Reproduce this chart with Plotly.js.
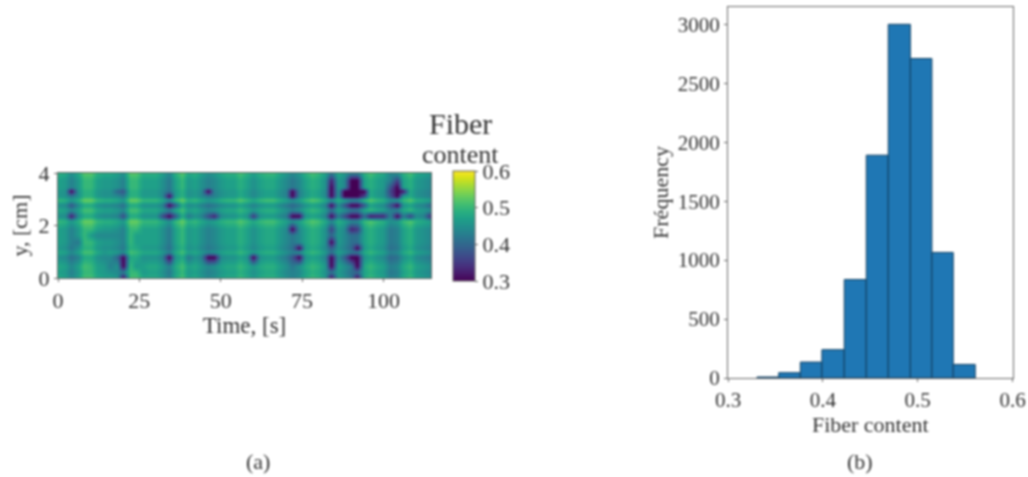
<!DOCTYPE html>
<html><head><meta charset="utf-8">
<script src="https://cdn.plot.ly/plotly-3.0.1.min.js"></script>
<style>html,body{margin:0;padding:0;background:#fff}#plot{width:1028px;height:477px;filter:blur(0.8px)}</style>
</head><body><div id="plot"></div>
<script>
var timeSeconds=[0,2,4,6,8,10,12,14,16,18,20,22,24,26,28,30,32,34,36,38,40,42,44,46,48,50,52,54,56,58,60,62,64,66,68,70,72,74,76,78,80,82,84,86,88,90,92,94,96,98,100,102,104,106,108,110,112,114];
var yCm=[0,0.23,0.46,0.8,1.0,1.15,1.38,1.62,1.88,2.18,2.36,2.58,2.8,2.96,3.12,3.3,3.48,3.72,4];
var fiberPercent=[
[48,47,44,47,51,51,48,47,47,46,30,51,51,48,48,48,46,43,48,51,47,48,46,44,45,47,48,48,50,48,46,48,49,49,47,45,43,45,48,50,49,46,30,47,45,42,30,48,50,48,47,43,44,48,50,47,46,45],
[47,46,43,46,50,50,47,46,45,44,42,50,50,46,47,47,45,42,47,50,46,47,45,43,44,46,47,47,49,47,45,47,48,48,46,44,43,44,47,49,48,45,41,46,44,41,40,47,49,47,46,42,43,47,49,46,45,44],
[48,47,44,47,51,50,47,46,43,45,30,50,46,47,48,48,46,43,48,51,47,48,46,44,45,47,48,48,50,48,46,48,49,49,47,45,42,45,48,50,49,46,30,47,45,42,30,48,50,48,47,43,44,48,50,47,46,45],
[45,44,41,43,48,48,45,44,44,40,30,48,48,45,45,45,43,30,45,48,42,45,43,30,30,44,45,45,47,45,30,45,46,46,44,42,38,30,45,47,46,43,30,44,39,30,30,45,47,45,44,40,41,45,47,44,43,42],
[48,47,44,47,51,51,48,46,47,46,44,51,50,48,48,48,46,43,48,51,47,48,46,44,45,47,48,48,50,48,46,48,49,49,47,45,43,45,48,50,49,46,41,47,45,42,42,48,50,48,47,43,44,48,50,47,46,45],
[46,45,42,45,49,49,46,45,45,44,42,49,48,46,46,46,44,41,46,49,45,46,44,42,43,45,46,46,48,46,44,46,47,47,45,43,41,30,46,48,47,44,39,45,43,40,30,46,48,46,45,41,42,46,48,45,44,43],
[47,46,43,42,50,50,47,46,46,45,43,50,47,47,47,47,45,42,47,50,46,47,45,43,44,46,47,47,49,47,45,47,48,48,46,44,42,44,47,49,48,45,30,46,44,41,41,47,49,47,46,42,43,47,49,46,45,44],
[47,46,43,46,50,46,44,44,44,44,43,50,47,47,47,47,45,42,47,50,46,47,45,43,44,46,47,47,49,47,45,47,48,48,46,44,42,44,47,49,48,45,40,46,44,41,41,47,49,47,46,42,43,47,49,46,45,44],
[47,46,43,46,50,50,47,46,46,45,43,50,50,47,47,47,45,42,47,50,46,47,45,43,44,46,47,47,49,47,45,47,48,48,46,44,30,44,47,49,48,45,36,46,44,33,35,47,49,47,46,42,43,47,49,46,45,44],
[50,49,46,49,53,53,50,49,49,48,46,53,53,50,50,50,48,45,50,53,49,50,48,46,47,49,50,50,52,50,48,50,51,51,49,47,45,47,50,52,51,48,44,49,47,44,44,50,52,50,49,45,46,50,52,49,48,47],
[45,44,32,44,48,48,45,44,44,43,37,48,48,45,45,45,37,30,38,48,42,45,43,37,33,44,45,45,47,45,35,45,46,46,44,42,30,30,45,47,46,43,30,42,37,30,30,40,32,33,33,43,30,42,36,44,43,35],
[48,47,44,47,51,51,48,47,47,46,44,51,51,48,48,48,46,43,48,51,47,48,46,44,45,47,48,48,50,48,46,48,49,49,47,45,43,45,48,50,49,46,41,47,45,42,42,48,50,48,47,43,44,48,50,47,46,45],
[45,44,38,44,48,48,45,44,44,43,41,48,48,45,45,45,43,30,38,48,44,45,43,41,42,44,45,45,47,45,43,45,46,46,44,42,40,42,45,47,46,43,30,44,38,30,30,38,47,45,44,38,30,45,47,44,43,40],
[50,49,46,49,53,53,50,49,49,48,46,53,53,50,50,50,48,45,50,53,49,50,48,46,47,49,50,50,52,50,48,50,51,51,49,47,45,47,50,52,51,48,45,49,47,44,44,50,52,50,49,45,46,50,52,49,48,47],
[46,45,42,45,49,49,46,45,45,44,42,49,49,46,46,46,44,30,46,49,45,46,44,42,43,45,46,46,48,46,44,46,47,47,45,43,30,43,46,48,47,44,30,45,30,30,30,36,48,46,45,38,30,46,48,45,44,43],
[46,45,30,45,49,49,46,45,45,40,38,49,49,46,46,46,44,41,46,49,45,46,44,30,43,45,46,46,48,46,44,46,47,47,45,43,30,43,46,48,47,44,30,45,30,30,30,30,48,46,45,36,30,32,48,45,44,43],
[47,46,43,46,50,50,47,46,46,45,43,50,50,47,47,47,45,42,47,50,46,47,45,43,44,46,47,47,49,47,45,47,48,48,46,44,42,44,47,49,48,45,30,46,44,30,30,47,49,47,46,38,30,47,49,46,45,44],
[47,46,43,46,50,50,47,46,46,45,43,50,50,47,47,47,45,42,47,50,46,47,45,43,44,46,47,47,49,47,45,47,48,48,46,44,42,44,47,49,48,45,33,46,44,30,30,47,49,47,46,43,36,47,49,46,45,44],
[49,48,45,48,52,52,49,48,48,47,45,52,52,49,49,49,47,44,49,52,48,49,47,45,46,48,49,49,51,49,47,49,50,50,48,46,44,46,49,51,50,47,42,48,46,43,43,49,51,49,48,44,45,49,51,48,47,46]
];
var binEdges=[0.3306,0.3535,0.3763,0.399,0.4226,0.4458,0.469,0.4923,0.515,0.5375,0.5607];
var binCounts=[8,45,135,240,835,1890,3000,2710,1065,115];
var timeTicks=[0,25,50,75,100];
var yTicks=[0,2,4];
var barTicksX=[0.3,0.4,0.5,0.6];
var barTicksY=[0,500,1000,1500,2000,2500,3000];

var W=1028,H=477,serif='"Liberation Serif","DejaVu Serif",serif',ink='#333',edge='#666';
function fx(p){return p/W;} function fy(p){return 1-p/H;}
var heat={type:'heatmap',x:timeSeconds,y:yCm,z:fiberPercent.map(function(r){return r.map(function(v){return v/100;});}),
 colorscale:'Viridis',zmin:0.3,zmax:0.6,zsmooth:'best',xaxis:'x',yaxis:'y',
 colorbar:{x:fx(453),xanchor:'left',xpad:0,ypad:0,thickness:22,thicknessmode:'pixels',len:110,lenmode:'pixels',y:fy(226),yanchor:'middle',
  outlinewidth:1,outlinecolor:edge,tickvals:[0.3,0.4,0.5,0.6],ticktext:['0.3','0.4','0.5','0.6'],ticks:'outside',ticklen:3,tickcolor:edge,
  tickfont:{family:serif,size:22,color:ink}}};
var bars={type:'bar',x:binCounts.map(function(c,i){return (binEdges[i]+binEdges[i+1])/2;}),
 width:binCounts.map(function(c,i){return binEdges[i+1]-binEdges[i];}),y:binCounts,
 marker:{color:'#1f77b4',line:{color:'#123f60',width:1}},xaxis:'x2',yaxis:'y2'};
function ax(o,size){var a={showgrid:false,zeroline:false,showline:true,mirror:true,linecolor:edge,linewidth:1,ticks:'outside',ticklen:3,tickcolor:edge,
  tickfont:{family:serif,size:size,color:ink},tickmode:'array'};for(var k in o)a[k]=o[k];return a;}
function note(text,x,y,size){return {text:text,xref:'paper',yref:'paper',x:fx(x),y:fy(y),xanchor:'center',yanchor:'middle',showarrow:false,font:{family:serif,size:size,color:ink}};}
var layout={width:W,height:H,margin:{l:0,r:0,t:0,b:0},paper_bgcolor:'#fff',plot_bgcolor:'#fff',showlegend:false,
 xaxis:ax({domain:[fx(58),fx(431)],range:[0,114.6],anchor:'y',tickvals:timeTicks,ticktext:timeTicks.map(String),
   title:{text:'Time, [s]',font:{family:serif,size:23,color:ink},standoff:0}},22),
 yaxis:ax({domain:[fy(278),fy(173)],range:[0,4],anchor:'x',tickvals:yTicks,ticktext:yTicks.map(String),
   title:{text:'y, [cm]',font:{family:serif,size:22,color:ink},standoff:4}},22),
 xaxis2:ax({domain:[fx(728),fx(1012.5)],range:[0.3,0.6],anchor:'y2',tickvals:barTicksX,ticktext:barTicksX.map(function(v){return v.toFixed(1);}),
   title:{text:'Fiber content',font:{family:serif,size:22,color:ink},standoff:0}},21),
 yaxis2:ax({domain:[fy(378),fy(7)],range:[0,3147],anchor:'x2',tickvals:barTicksY,ticktext:barTicksY.map(String),
   title:{text:'Fréquency',font:{family:serif,size:22,color:ink},standoff:3}},21),
 annotations:[note('Fiber',460,124,30),note('content',460,154,26),note('(a)',258,461,22),note('(b)',860,461,22)]};
Plotly.newPlot('plot',[heat,bars],layout,{displayModeBar:false,staticPlot:true});
</script></body></html>
